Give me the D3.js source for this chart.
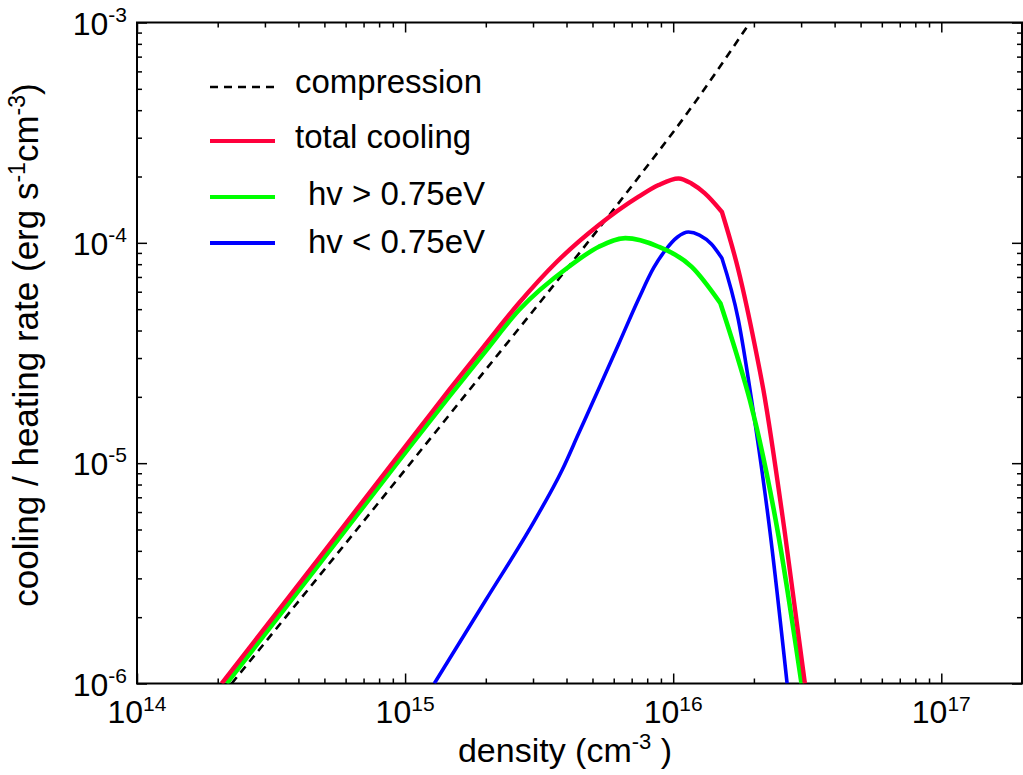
<!DOCTYPE html>
<html>
<head>
<meta charset="utf-8">
<script src="https://cdn.jsdelivr.net/npm/d3@7"></script>
<style>
  html, body { margin: 0; padding: 0; background: #fff; }
  svg { display: block; font-family: "Liberation Sans", Arial, Helvetica, sans-serif; }
</style>
</head>
<body>
<svg id="chart" width="1023" height="775"></svg>
<script>
// Cooling and heating rates versus gas density (log-log)
const xDomain = [1e14, 2e17];
const yDomain = [1e-6, 1e-3];
const xMajor = [1e14, 1e15, 1e16, 1e17];
const xMajorExp = ["14", "15", "16", "17"];
const yMajor = [1e-6, 1e-5, 1e-4, 1e-3];
const yMajorExp = ["-6", "-5", "-4", "-3"];

// compression heating
const compression = [
  [2.255e14, 1.0e-6], [1.461e15, 1.654e-5], [7.54e15, 2.032e-4],
  [1.092e16, 3.674e-4], [1.933e16, 1.0e-3]
];

// total cooling
const totalCooling = [
  [2.07e14, 1.0e-6], [4.80e14, 3.74e-6], [1.13e15, 1.439e-5], [1.46e15, 2.15e-5],
  [1.971e15, 3.40e-5], [2.66e15, 5.33e-5], [3.674e15, 8.18e-5], [5.28e15, 1.205e-4],
  [7.43e15, 1.62e-4], [8.82e15, 1.83e-4], [1.047e16, 1.96e-4], [1.17e16, 1.859e-4],
  [1.31e16, 1.68e-4], [1.52e16, 1.38e-4], [1.75e16, 7.53e-5], [2.02e16, 3.38e-5],
  [2.17e16, 2.15e-5], [2.61e16, 4.81e-6], [3.10e16, 1.0e-6]
];

// cooling by photons with hv > 0.75 eV
const coolingHigh = [
  [2.16e14, 1.0e-6], [4.80e14, 3.50e-6], [1.13e15, 1.349e-5], [1.46e15, 2.003e-5],
  [1.971e15, 3.162e-5], [2.66e15, 4.955e-5], [4.08e15, 7.79e-5], [5.28e15, 9.6e-5],
  [6.63e15, 1.05e-4], [8.82e15, 9.6e-5], [1.17e16, 7.8e-5], [1.50e16, 5.32e-5],
  [1.75e16, 2.94e-5], [1.93e16, 1.94e-5], [2.46e16, 4.82e-6], [3.01e16, 1.0e-6]
];

// cooling by photons with hv < 0.75 eV
const coolingLow = [
  [1.285e15, 1.0e-6], [2.0e15, 2.393e-6], [3.07e15, 5.6e-6], [3.853e15, 9.31e-6],
  [4.446e15, 1.37e-5], [5.353e15, 2.263e-5], [6.262e15, 3.474e-5], [7.43e15, 5.56e-5],
  [8.45e15, 7.69e-5], [9.36e15, 9.28e-5], [1.038e16, 1.063e-4], [1.14e16, 1.12e-4],
  [1.253e16, 1.085e-4], [1.388e16, 9.88e-5], [1.52e16, 8.51e-5], [1.75e16, 4.47e-5],
  [1.96e16, 1.94e-5], [2.30e16, 4.81e-6], [2.66e16, 1.0e-6]
];

// the cooling curves change slope abruptly at this density
const kinkDensity = 1.49e16;

const legendLabels = ["compression", "total cooling", "hv > 0.75eV", "hv < 0.75eV"];

const svg = d3.select("#chart");
const plotLeft = 137, plotRight = 1022, plotTop = 22.5, plotBottom = 683.5;

const x = d3.scaleLog().domain(xDomain).range([plotLeft, plotRight]);
const y = d3.scaleLog().domain(yDomain).range([plotBottom, plotTop]);

function minorTicks(domain) {
  const out = [];
  const lo = Math.floor(Math.log10(domain[0])), hi = Math.ceil(Math.log10(domain[1]));
  for (let e = lo; e <= hi; e++) {
    for (let m = 2; m <= 9; m++) {
      const v = m * Math.pow(10, e);
      if (v > domain[0] && v < domain[1]) out.push(v);
    }
  }
  return out;
}
const xMinor = minorTicks(xDomain);
const yMinor = minorTicks(yDomain);

// clip for data lines
svg.append("defs").append("clipPath").attr("id", "plot-clip")
  .append("rect").attr("x", plotLeft).attr("y", plotTop)
  .attr("width", plotRight - plotLeft).attr("height", plotBottom - plotTop);

// inward ticks on all four sides
function tickAxis(axisFn, scale, values, len, transform) {
  const g = svg.append("g").attr("transform", transform)
    .call(axisFn(scale).tickValues(values).tickSize(-len).tickSizeOuter(0).tickFormat(""));
  g.select(".domain").remove();
  g.selectAll(".tick line").attr("stroke", "#000").attr("stroke-width", 1.5);
  return g;
}
tickAxis(d3.axisBottom, x, xMajor, 10, `translate(0,${plotBottom})`);
tickAxis(d3.axisBottom, x, xMinor, 5, `translate(0,${plotBottom})`);
tickAxis(d3.axisTop, x, xMajor, 10, `translate(0,${plotTop})`);
tickAxis(d3.axisTop, x, xMinor, 5, `translate(0,${plotTop})`);
tickAxis(d3.axisLeft, y, yMajor, 10, `translate(${plotLeft},0)`);
tickAxis(d3.axisLeft, y, yMinor, 5, `translate(${plotLeft},0)`);
tickAxis(d3.axisRight, y, yMajor, 10, `translate(${plotRight},0)`);
tickAxis(d3.axisRight, y, yMinor, 5, `translate(${plotRight},0)`);

// frame
svg.append("rect").attr("x", plotLeft).attr("y", plotTop)
  .attr("width", plotRight - plotLeft).attr("height", plotBottom - plotTop)
  .attr("fill", "none").attr("stroke", "#000").attr("stroke-width", 2);

// tick labels with superscript exponents
const xl = svg.append("g").selectAll("text").data(xMajor).join("text")
  .attr("x", d => x(d)).attr("y", 723).attr("text-anchor", "middle")
  .attr("font-size", 32).attr("fill", "#000");
xl.append("tspan").text("10");
xl.append("tspan").attr("dy", -12).attr("font-size", 21).text((d, i) => xMajorExp[i]);

const yl = svg.append("g").selectAll("text").data(yMajor).join("text")
  .attr("x", 127).attr("y", d => y(d) + 12).attr("text-anchor", "end")
  .attr("font-size", 32).attr("fill", "#000");
yl.append("tspan").text("10");
yl.append("tspan").attr("dy", -13).attr("font-size", 21).text((d, i) => yMajorExp[i]);

// axis titles
const xt = svg.append("text").attr("x", 565).attr("y", 762)
  .attr("text-anchor", "middle").attr("font-size", 34).attr("fill", "#000");
xt.append("tspan").text("density (cm");
xt.append("tspan").attr("dy", -13).attr("font-size", 22).text("-3");
xt.append("tspan").attr("dy", 13).text(" )");

const yt = svg.append("text")
  .attr("transform", "translate(38,345) rotate(-90)")
  .attr("text-anchor", "middle").attr("font-size", 35).attr("fill", "#000");
yt.append("tspan").text("cooling / heating rate (erg s");
yt.append("tspan").attr("dy", -13).attr("font-size", 23).text("-1");
yt.append("tspan").attr("dy", 13).text("cm");
yt.append("tspan").attr("dy", -13).attr("font-size", 23).text("-3");
yt.append("tspan").attr("dy", 13).text(")");

// data lines: smooth on each side of the slope break
const smoothLine = d3.line().x(d => x(d[0])).y(d => y(d[1])).curve(d3.curveMonotoneX);
function brokenPath(data, breakAt) {
  const i = data.findIndex(d => d[0] >= breakAt);
  if (breakAt == null || i <= 0) return smoothLine(data);
  const pre = data.slice(0, i + 1), post = data.slice(i);
  return smoothLine(pre) + smoothLine(post).replace(/^M/, "L");
}
const plot = svg.append("g").attr("clip-path", "url(#plot-clip)");

const series = [
  { data: compression, color: "#000", width: 2.6, dash: "8,6", brk: null },
  { data: coolingLow, color: "#0000ff", width: 3.6, brk: kinkDensity },
  { data: coolingHigh, color: "#00ff00", width: 4.6, brk: kinkDensity },
  { data: totalCooling, color: "#ff003c", width: 4.4, brk: kinkDensity }
];
series.forEach(s => {
  plot.append("path")
    .attr("d", brokenPath(s.data, s.brk))
    .attr("fill", "none").attr("stroke", s.color).attr("stroke-width", s.width)
    .attr("stroke-dasharray", s.dash || null)
    .attr("stroke-linejoin", "round");
});

// legend
const legend = [
  { label: legendLabels[0], color: "#000", width: 2.6, dash: "8,6", ly: 87, ty: 93, tx: 295 },
  { label: legendLabels[1], color: "#ff003c", width: 4, dash: null, ly: 141, ty: 148, tx: 295 },
  { label: legendLabels[2], color: "#00ff00", width: 4, dash: null, ly: 197, ty: 205, tx: 308 },
  { label: legendLabels[3], color: "#0000ff", width: 4, dash: null, ly: 243, ty: 253, tx: 308 }
];
const lg = svg.append("g");
legend.forEach(l => {
  lg.append("line").attr("x1", 210).attr("x2", 275).attr("y1", l.ly).attr("y2", l.ly)
    .attr("stroke", l.color).attr("stroke-width", l.width).attr("stroke-dasharray", l.dash);
  lg.append("text").attr("x", l.tx).attr("y", l.ty).attr("font-size", 33)
    .attr("fill", "#000").text(l.label);
});
</script>
</body>
</html>
